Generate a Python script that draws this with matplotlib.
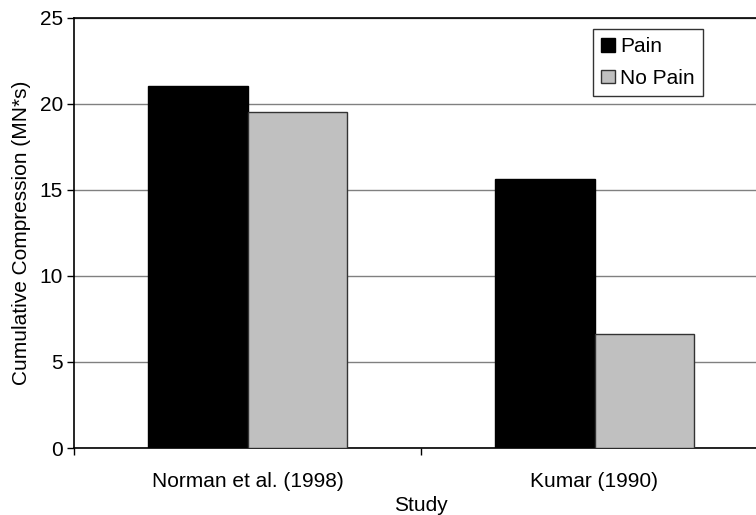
import matplotlib
matplotlib.use("Agg")
import matplotlib.pyplot as plt
import numpy as np

plt.rcParams['font.family'] = ['Liberation Sans', 'DejaVu Sans']

studies = ["Norman et al. (1998)", "Kumar (1990)"]
pain = [21.0, 15.6]
no_pain = [19.5, 6.6]
y_ticks = [0, 5, 10, 15, 20, 25]

FS = 15

fig = plt.figure(figsize=(7.56, 5.15), dpi=100)
ax = fig.add_axes([74 / 756, 67 / 515, 694 / 756, 430.5 / 515])

x = np.arange(len(studies))
w = 0.288
ax.bar(x - w / 2, pain, width=w, color="black", edgecolor="black",
       linewidth=1, label="Pain", zorder=3)
ax.bar(x + w / 2, no_pain, width=w, color="#c0c0c0", edgecolor="#333333",
       linewidth=1, label="No Pain", zorder=3)

ax.set_xlim(-0.5, len(studies) - 0.5)
ax.set_ylim(0, 25)
ax.set_yticks(y_ticks)
ax.yaxis.grid(True, color="#808080", linewidth=1, zorder=0)
ax.set_axisbelow(True)

ax.set_xticks(x)
ax.set_xticklabels(studies, fontsize=FS)
ax.tick_params(axis="x", which="major", length=0, pad=17)
ax.set_xticks(np.arange(-0.5, len(studies), 1.0), minor=True)
ax.tick_params(axis="x", which="minor", length=5, width=1, color="black", direction="out")
ax.tick_params(axis="y", length=5, width=1, labelsize=FS, direction="out", pad=3)

for s in ["top", "right"]:
    ax.spines[s].set_visible(False)
ax.axhline(25, color="black", linewidth=1.2, zorder=4, clip_on=False)
ax.spines["left"].set_linewidth(1.2)
ax.spines["bottom"].set_linewidth(1.2)

ax.set_ylabel("Cumulative Compression (MN*s)", fontsize=FS, labelpad=6)
ax.set_xlabel("Study", fontsize=FS, labelpad=4)

leg = ax.legend(loc="upper left", fontsize=FS, frameon=True, fancybox=False,
                edgecolor="black", handlelength=0.65, handleheight=0.65,
                handletextpad=0.25, borderpad=0.4, labelspacing=0.6,
                borderaxespad=0)
leg.get_frame().set_linewidth(1)
leg.set_bbox_to_anchor((593 / 756, (515 - 29) / 515), transform=fig.transFigure)

fig.savefig("out.png", dpi=100)
